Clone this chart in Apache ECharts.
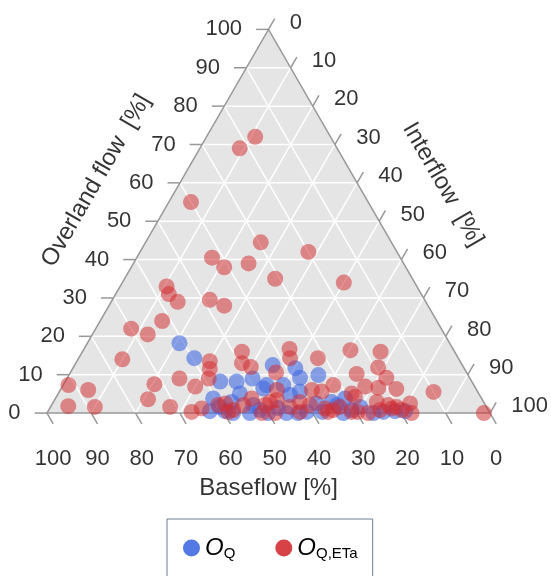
<!DOCTYPE html>
<html>
<head>
<meta charset="utf-8">
<script src="https://cdn.jsdelivr.net/npm/echarts@6/dist/echarts.min.js"></script>
<style>
html, body { margin: 0; padding: 0; background: #fff; }
#main { width: 551px; height: 576px; }
</style>
</head>
<body>
<div id="main"></div>
<script>
// ternary values in %. baseflow = 100 - overland - interflow
var ticks = [0, 10, 20, 30, 40, 50, 60, 70, 80, 90, 100];

var oqOverland  = [18.2, 14.3, 8.2, 8.2, 9, 3.8, 5.1, 12.5, 11.7, 9.9, 9.2, 7.3, 7.3, 6.4, 4.7, 5.6, 2.9, 2.1,
                   0.8, 0.3, 2.5, 0, 0, 0, 0, 2.9, 1.6, 3.8, 2.1, 1.6, 0, 0.3, 0, 0.5, 0.5,
                   0.5, 0, 1.3, 0.3, 0.8, 0.5];
var oqInterflow = [20.8, 26.1, 35, 38.7, 41.9, 35.6, 41, 44.7, 50.2, 56.3, 52.5, 45.9, 49.7, 45.6, 52.5, 54.3, 40.2, 45.5,
                   47.7, 58.5, 59.6, 42, 45.8, 54.1, 56.7, 62.8, 38.2, 65.4, 64.4, 69.9, 66.9, 75.8, 73.7, 36.5, 80.6,
                   39.9, 49.9, 51.5, 62, 68.4, 78.3];

var oqEtaOverland  = [72, 69, 55, 44.5, 42, 40.5, 39, 38, 35, 34, 33, 31, 29, 29.5, 28, 24, 22, 20.5, 14, 13.5,
                      11.5, 16, 13, 12, 7.3, 6, 1.8, 1.6, 7.5, 3.6, 9, 6.9, 1.6, 9, 0.3, 1.2, 16.7, 14.3, 14.3, 10.6,
                      7.3, 6, 5.6, 2.5, 0.3, 2.1, 3.8, 2.9, 3.4, 6, 0, 0, 1.6, 2.9, 2.1, 1.2, 0.3, 2.1, 16.4, 16,
                      11.9, 10.2, 9.2, 6.9, 6.6, 6.3, 5.5, 5.1, 4.2, 2.9, 2.1, 1.6, 2.5, 0.3, 0, 1.2, 0.8, 0, 0, 0.8,
                      0.8, 2.1, 0.3, 1.6, 0.3, 0.8];
var oqEtaInterflow = [11, 9, 5, 26, 38, 17, 26, 21, 34, 50, 10.5, 12, 15, 22, 26, 14, 8, 12.5, 10, 30,
                      31, 36, 37.5, 40, 1.2, 6.3, 3.9, 10, 20.5, 21, 25.4, 30, 27, 32, 32.5, 34.3, 46.4, 47.7, 54, 46.4,
                      61, 56.8, 59.2, 39, 40.8, 43.3, 44.3, 48.9, 50.2, 48.9, 48.5, 51.5, 54, 55.6, 58.3, 62.1, 63.3, 37.6, 60.3, 67.3,
                      68.8, 64.8, 72, 68.4, 71.5, 75.7, 84.5, 66.2, 67.4, 73, 76, 78.1, 80.7, 68.6, 72.5, 77.2, 79.7, 82.3, 98.6, 64.2,
                      41.6, 48.2, 57, 65.3, 70, 74.8];

var H = Math.sqrt(3) / 2;
var TICK = 2.8;      // tick length, in % units
var FONT = 'Liberation Sans, Arial, sans-serif';

// overland -> top vertex, interflow -> bottom right, baseflow -> bottom left
function toXY(o, i) {
    return [i / 100 + o / 200, o / 100 * H];
}

function points(overland, interflow) {
    return overland.map(function (o, k) {
        var xy = toXY(o, interflow[k]);
        return [xy[0], xy[1], o, interflow[k], +(100 - o - interflow[k]).toFixed(1)];
    });
}

function seg(a, b, color) {
    return {
        type: 'line',
        shape: {x1: a[0], y1: a[1], x2: b[0], y2: b[1]},
        style: {stroke: color, lineWidth: 1.5}
    };
}

function frame(params, api) {
    function p(o, i) { return api.coord(toXY(o, i)); }
    var kids = [{
        type: 'polygon',
        shape: {points: [p(0, 0), p(0, 100), p(100, 0)]},
        style: {fill: '#e5e5e5'}
    }];
    ticks.slice(1, -1).forEach(function (t) {
        kids.push(seg(p(t, 0), p(t, 100 - t), '#fff'));
        kids.push(seg(p(0, t), p(100 - t, t), '#fff'));
        kids.push(seg(p(0, 100 - t), p(100 - t, 0), '#fff'));
    });
    ticks.forEach(function (t) {
        kids.push(seg(p(t, 0), p(t, -TICK), '#999'));
        kids.push(seg(p(100 - t, t), p(100 - t + TICK, t), '#999'));
        kids.push(seg(p(0, 100 - t), p(-TICK, 100 - t + TICK), '#999'));
    });
    kids.push({
        type: 'polygon',
        shape: {points: [p(0, 0), p(0, 100), p(100, 0)]},
        style: {fill: null, stroke: '#999', lineWidth: 1.5}
    });
    return {type: 'group', children: kids};
}

function textSeries(data, label) {
    return {
        type: 'scatter', symbolSize: 0, silent: true, z: 1, clip: false,
        data: data,
        label: Object.assign({
            show: true, position: 'inside', verticalAlign: 'middle',
            fontSize: 22, fontFamily: FONT, color: '#000',
            textBorderWidth: 0,
            formatter: function (d) { return String(d.data.text); }
        }, label)
    };
}

function tickItem(xy, t) { return {value: xy, text: t}; }
var leftTicks = ticks.map(function (t) { return tickItem(toXY(t, -TICK), t); });
var rightTicks = ticks.map(function (t) { return tickItem(toXY(100 - t + TICK, t), t); });
var bottomTicks = ticks.map(function (t) { return tickItem(toXY(-TICK, 100 - t + TICK), t); });

var off = 0.166;
var lt = toXY(51, 0), rt = toXY(50, 50), bt = toXY(0, 50);
var titles = [
    {value: [lt[0] - off * H, lt[1] + off * 0.5], text: 'Overland flow  [%]', label: {rotate: 60}},
    {value: [rt[0] + off * H, rt[1] + off * 0.5], text: 'Interflow  [%]', label: {rotate: -60}},
    {value: [bt[0], bt[1] - 0.17], text: 'Baseflow [%]'}
];

var chart = echarts.init(document.getElementById('main'));
chart.setOption({
    backgroundColor: '#fff',
    animation: false,
    grid: {left: 47, top: 29.4, width: 443, height: 443 * H},
    xAxis: {type: 'value', min: 0, max: 1, show: false},
    yAxis: {type: 'value', min: 0, max: H, show: false},
    legend: {
        left: 167, top: 519,
        data: ['OQ', 'OQETa'],
        icon: 'circle', itemWidth: 17, itemHeight: 17, itemGap: 40,
        borderColor: '#6f8090', borderWidth: 1,
        padding: [16, 15, 40, 16],
        itemStyle: {opacity: 0.9},
        formatter: function (n) { return n === 'OQ' ? '{o|O}{s|Q}' : '{o|O}{s|Q,ETa}'; },
        textStyle: {
            rich: {
                o: {fontSize: 24, fontStyle: 'italic', fontFamily: FONT, color: '#000', lineHeight: 26},
                s: {fontSize: 15, fontFamily: FONT, color: '#000', verticalAlign: 'bottom', lineHeight: 26, padding: [11, 0, 0, 0]}
            }
        }
    },
    series: [
        {
            type: 'custom', silent: true, z: 0, clip: false,
            renderItem: frame,
            data: [[0, 0]]
        },
        textSeries(leftTicks, {align: 'right', offset: [-14, 0]}),
        textSeries(rightTicks, {align: 'left', offset: [15, 4]}),
        textSeries(bottomTicks, {align: 'center', offset: [0, 35]}),
        textSeries(titles, {align: 'center', fontSize: 24}),
        {
            name: 'OQ', type: 'scatter', z: 3, clip: false,
            symbolSize: 16,
            itemStyle: {color: 'rgb(65,105,225)', opacity: 0.6},
            data: points(oqOverland, oqInterflow)
        },
        {
            name: 'OQETa', type: 'scatter', z: 4, clip: false,
            symbolSize: 16,
            itemStyle: {color: 'rgb(210,45,50)', opacity: 0.53},
            data: points(oqEtaOverland, oqEtaInterflow)
        }
    ]
});
</script>
</body>
</html>
